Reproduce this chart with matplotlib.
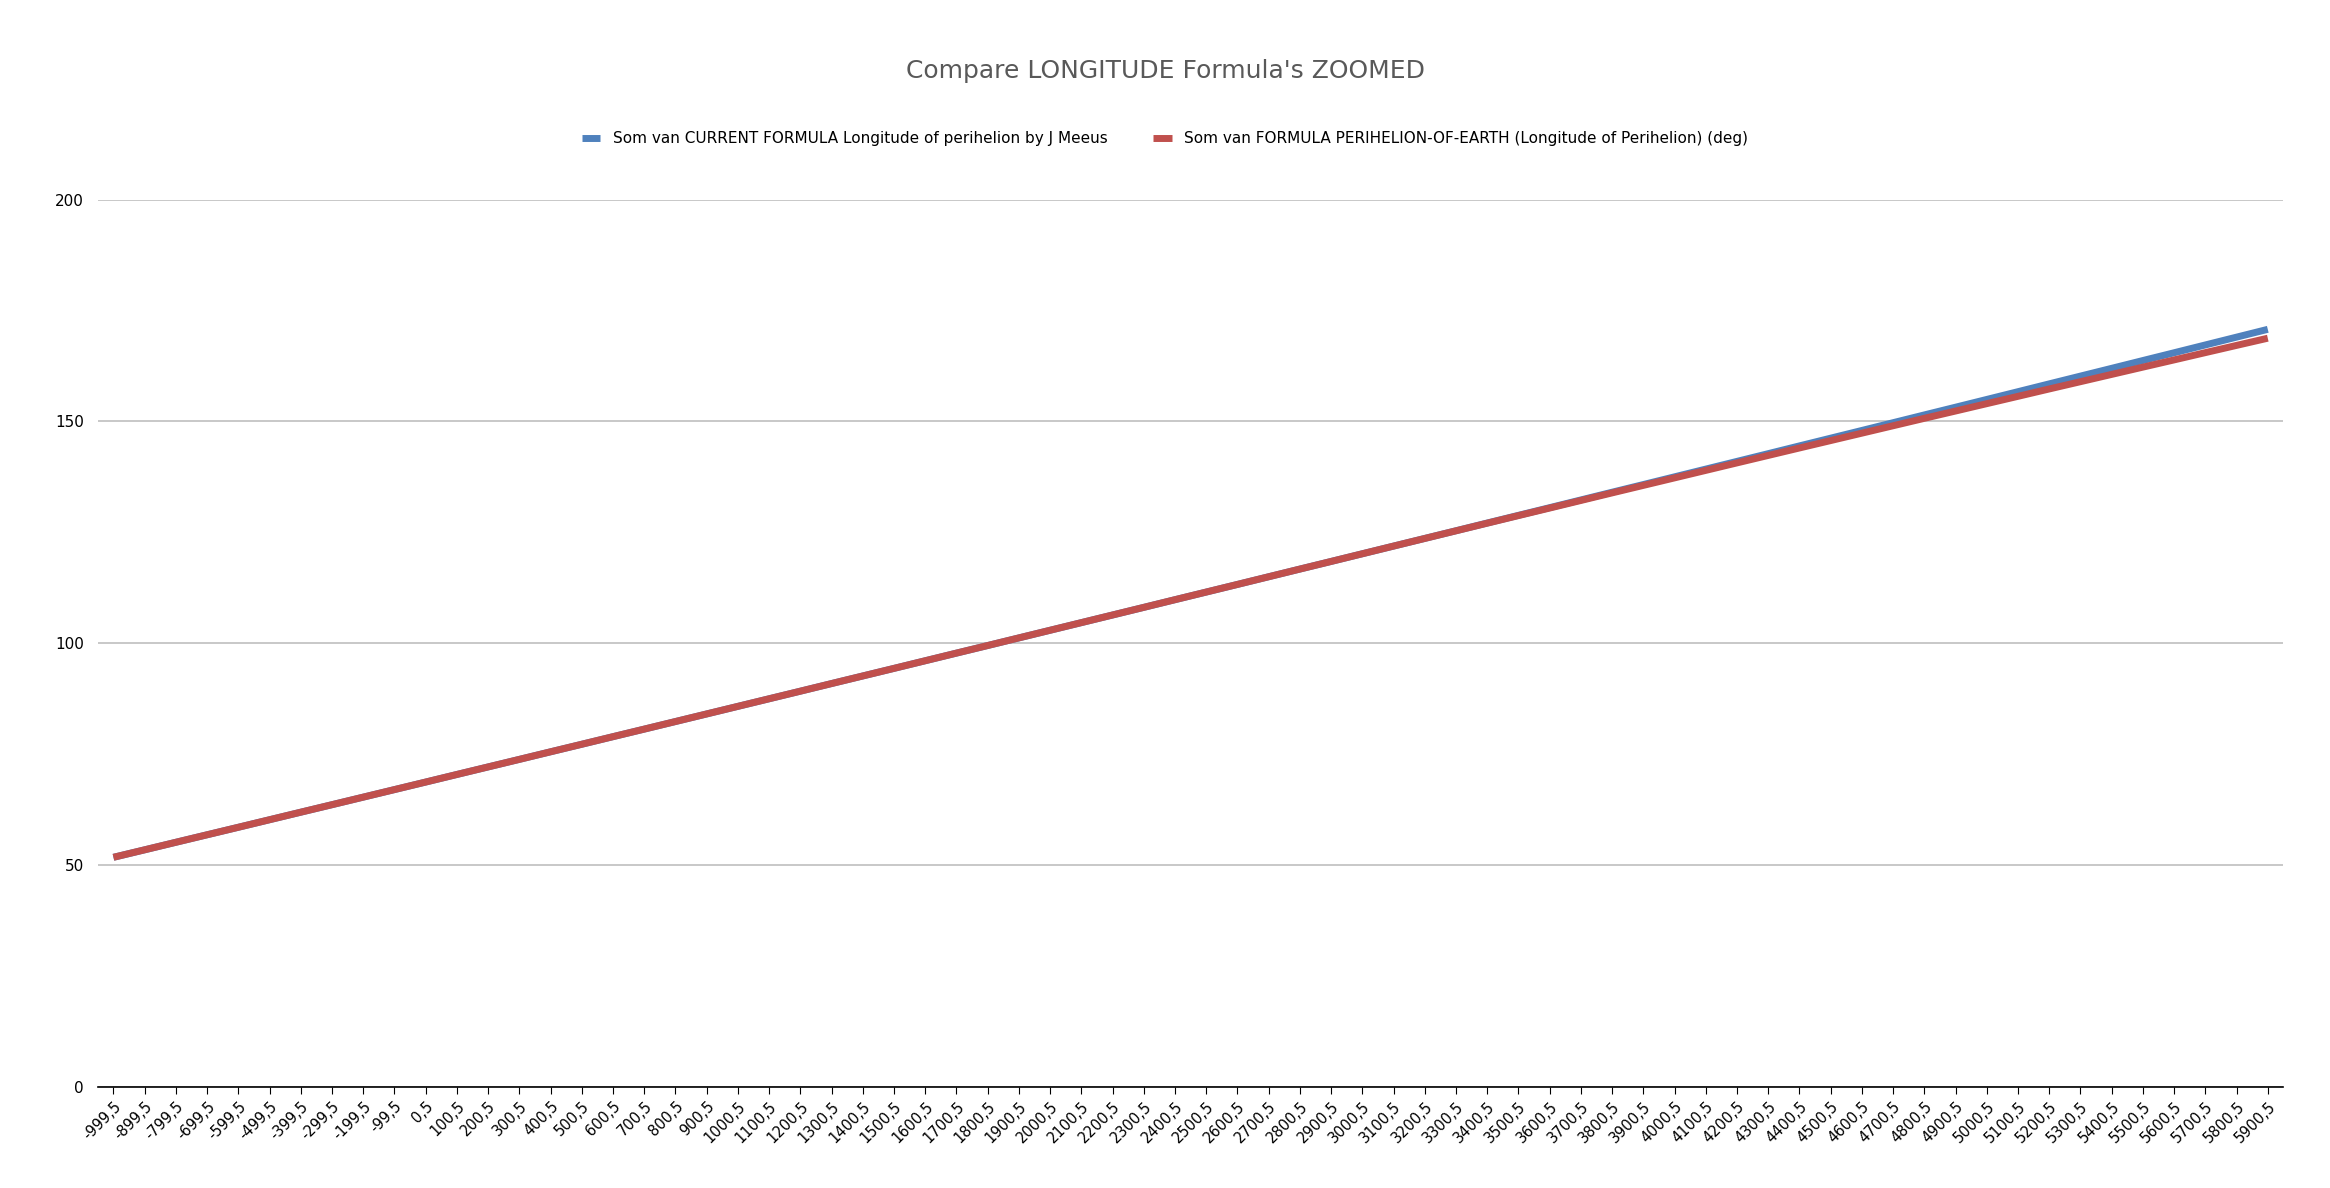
import matplotlib
matplotlib.use("Agg")
import matplotlib.pyplot as plt

years = [-999.5 + 100*i for i in range(70)]
labels = [("%.1f" % y).replace(".", ",") for y in years]
blue = [51.77,53.46,55.16,56.85,58.54,60.24,61.94,63.63,65.33,67.03,68.73,70.44,72.14,73.84,75.55,77.25,78.96,80.66,82.37,84.08,85.79,87.50,89.21,90.93,92.64,94.35,96.07,97.79,99.50,101.22,102.94,104.66,106.38,108.10,109.83,111.55,113.27,115.00,116.73,118.45,120.18,121.91,123.64,125.37,127.11,128.84,130.57,132.31,134.05,135.78,137.52,139.26,141.00,142.74,144.49,146.23,147.97,149.72,151.47,153.21,154.96,156.71,158.47,160.22,161.97,163.73,165.48,167.24,169.00,170.76]
red = blue[:41] + [121.91,123.63,125.35,127.07,128.78,130.48,132.19,133.90,135.59,137.28,138.97,140.66,142.34,144.02,145.69,147.36,149.03,150.70,152.35,154.01,155.66,157.32,158.96,160.60,162.24,163.87,165.51,167.14,168.76]

fig = plt.figure(figsize=(23.3, 11.88), dpi=100)
ax = fig.add_axes([0.042, 0.085, 0.938, 0.747])
x = list(range(len(years)))
ax.plot(x, blue, color="#4f81bd", lw=5, label="Som van CURRENT FORMULA Longitude of perihelion by J Meeus", solid_capstyle="butt")
ax.plot(x, red, color="#c0504d", lw=5, label="Som van FORMULA PERIHELION-OF-EARTH (Longitude of Perihelion) (deg)", solid_capstyle="butt")
ax.set_xlim(-0.5, len(years)-0.5)
ax.set_ylim(0, 200)
ax.set_yticks([0, 50, 100, 150, 200])
ax.set_xticks(x)
ax.set_xticklabels(labels, rotation=45, ha="right", rotation_mode="anchor", fontsize=10.5)
ax.tick_params(axis="y", labelsize=11, length=0, pad=10)
ax.tick_params(axis="x", length=5, color="black")
ax.grid(axis="y", color="#bfbfbf", lw=1.2)
ax.set_axisbelow(True)
for s in ["top", "right", "left"]:
    ax.spines[s].set_visible(False)
ax.spines["bottom"].set_color("black")
ax.spines["bottom"].set_linewidth(1.2)
fig.text(0.5, 0.94, "Compare LONGITUDE Formula's ZOOMED", ha="center", va="center", fontsize=18, color="#595959")
fig.legend(loc="center", bbox_to_anchor=(0.5, 0.883), ncol=2, frameon=False, fontsize=11, handlelength=1.2, columnspacing=3)
fig.savefig("out.png", dpi=100)
